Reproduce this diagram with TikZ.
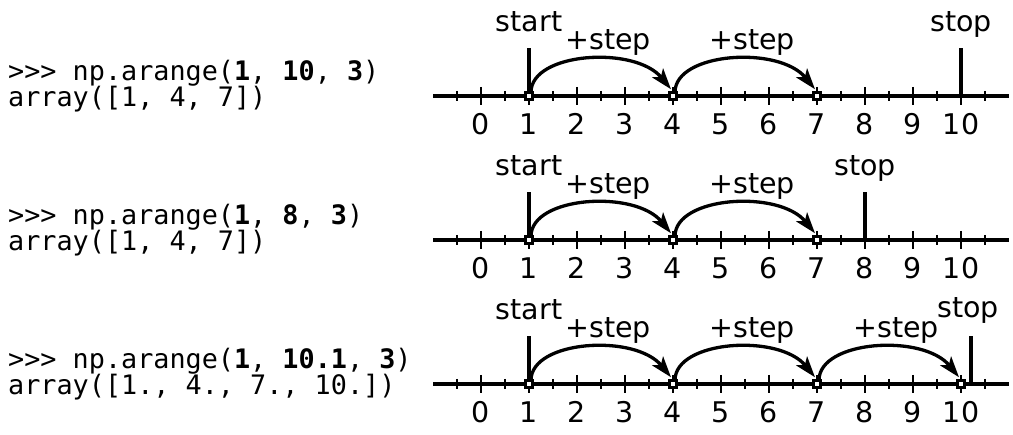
\documentclass[tikz,border=0pt]{standalone}
\usepackage{fontspec}
\setmainfont{DejaVu Sans}
\newfontfamily\codefont{DejaVu Sans Mono}
\usetikzlibrary{arrows.meta}
\tikzset{
  axisline/.style={line width=3.5pt},
  majortick/.style={line width=1.6pt},
  minortick/.style={line width=1.3pt},
  vline/.style={line width=4.2pt},
  pt/.style={draw, fill=white, line width=3.2pt, minimum size=7.5pt, inner sep=0pt, outer sep=0pt},
  num/.style={anchor=base, inner sep=0pt, font=\fontsize{28.5}{30}\selectfont},
  lab/.style={anchor=base, inner sep=0pt, font=\fontsize{28.5}{30}\selectfont},
  code/.style={anchor=base west, inner sep=0pt, font=\codefont\fontsize{26.8}{26}\selectfont},
  arc/.style={line width=3.3pt, -{Stealth[length=21pt,width=14pt,inset=5pt]}},
}
\newcommand\bfc[1]{{\bfseries #1}}
\begin{document}
\begin{tikzpicture}[x=1pt,y=-1pt]
\useasboundingbox (0,0) rectangle (1013,435);

% ---------------- code text ----------------
\node[code] (c1a) at (8,81) {>>> np.arange(\bfc{1}, \bfc{10}, \bfc{3})};
\node[code] (c1b) at (8,107) {array([1, 4, 7])};
\node[code] (c2a) at (8,225) {>>> np.arange(\bfc{1}, \bfc{8}, \bfc{3})};
\node[code] (c2b) at (8,251) {array([1, 4, 7])};
\node[code] (c3a) at (8,369) {>>> np.arange(\bfc{1}, \bfc{10.1}, \bfc{3})};
\node[code] (c3b) at (8,395) {array([1., 4., 7., 10.])};

% ---------------- panel 1 ----------------
\begin{scope}[shift={(481,96)}, x=48pt, y=-1pt]
  \coordinate (L1) at (-1,0); \coordinate (R1) at (11,0);
  \draw[axisline] (L1) -- (R1);
  \foreach \i in {0,...,10} {
    \draw[majortick] (\i,-9) -- (\i,9);
    \node[num, name=nA\i] at (\i,39) {\i};
  }
  \foreach \i in {-0.5,0.5,1.5,2.5,3.5,4.5,5.5,6.5,7.5,8.5,9.5,10.5}
    \draw[minortick] (\i,-5) -- (\i,5);
  \coordinate (sA) at (1,0); \coordinate (sAt) at (1,-48);
  \coordinate (eA) at (10,0); \coordinate (eAt) at (10,-48);
  \draw[vline] (sA) -- (sAt);
  \draw[vline] (eA) -- (eAt);
  \node[lab] (startA) at (1,-64) {start};
  \node[lab] (stopA) at (10,-64) {stop};
  \node[pt] (a1) at (1,0) {};
  \node[pt] (a4) at (4,0) {};
  \node[pt] (a7) at (7,0) {};
  \draw[arc] ([xshift=2pt]a1.north) .. controls +(0pt,40pt) and +(-36pt,44pt) .. ([xshift=-2pt,yshift=3pt]a4.north);
  \draw[arc] ([xshift=2pt]a4.north) .. controls +(0pt,40pt) and +(-36pt,44pt) .. ([xshift=-2pt,yshift=3pt]a7.north);
  \node[lab] (stepA1) at (2.65,-46) {+step};
  \node[lab] (stepA2) at (5.65,-46) {+step};
\end{scope}

% ---------------- panel 2 ----------------
\begin{scope}[shift={(481,240)}, x=48pt, y=-1pt]
  \coordinate (L2) at (-1,0); \coordinate (R2) at (11,0);
  \draw[axisline] (L2) -- (R2);
  \foreach \i in {0,...,10} {
    \draw[majortick] (\i,-9) -- (\i,9);
    \node[num, name=nB\i] at (\i,39) {\i};
  }
  \foreach \i in {-0.5,0.5,1.5,2.5,3.5,4.5,5.5,6.5,7.5,8.5,9.5,10.5}
    \draw[minortick] (\i,-5) -- (\i,5);
  \coordinate (sB) at (1,0); \coordinate (sBt) at (1,-48);
  \coordinate (eB) at (8,0); \coordinate (eBt) at (8,-48);
  \draw[vline] (sB) -- (sBt);
  \draw[vline] (eB) -- (eBt);
  \node[lab] (startB) at (1,-64) {start};
  \node[lab] (stopB) at (8,-64) {stop};
  \node[pt] (b1) at (1,0) {};
  \node[pt] (b4) at (4,0) {};
  \node[pt] (b7) at (7,0) {};
  \draw[arc] ([xshift=2pt]b1.north) .. controls +(0pt,40pt) and +(-36pt,44pt) .. ([xshift=-2pt,yshift=3pt]b4.north);
  \draw[arc] ([xshift=2pt]b4.north) .. controls +(0pt,40pt) and +(-36pt,44pt) .. ([xshift=-2pt,yshift=3pt]b7.north);
  \node[lab] (stepB1) at (2.65,-46) {+step};
  \node[lab] (stepB2) at (5.65,-46) {+step};
\end{scope}

% ---------------- panel 3 ----------------
\begin{scope}[shift={(481,384)}, x=48pt, y=-1pt]
  \coordinate (L3) at (-1,0); \coordinate (R3) at (11,0);
  \draw[axisline] (L3) -- (R3);
  \foreach \i in {0,...,10} {
    \draw[majortick] (\i,-9) -- (\i,9);
    \node[num, name=nC\i] at (\i,39) {\i};
  }
  \foreach \i in {-0.5,0.5,1.5,2.5,3.5,4.5,5.5,6.5,7.5,8.5,9.5,10.5}
    \draw[minortick] (\i,-5) -- (\i,5);
  \coordinate (sC) at (1,0); \coordinate (sCt) at (1,-48);
  \coordinate (eC) at (10.2,0); \coordinate (eCt) at (10.2,-48);
  \draw[vline] (sC) -- (sCt);
  \draw[vline] (eC) -- (eCt);
  \node[lab] (startC) at (1,-64) {start};
  \node[lab] (stopC) at (10.15,-66) {stop};
  \node[pt] (k1) at (1,0) {};
  \node[pt] (k4) at (4,0) {};
  \node[pt] (k7) at (7,0) {};
  \node[pt] (k10) at (10,0) {};
  \draw[arc] ([xshift=2pt]k1.north) .. controls +(0pt,40pt) and +(-36pt,44pt) .. ([xshift=-2pt,yshift=3pt]k4.north);
  \draw[arc] ([xshift=2pt]k4.north) .. controls +(0pt,40pt) and +(-36pt,44pt) .. ([xshift=-2pt,yshift=3pt]k7.north);
  \draw[arc] ([xshift=2pt]k7.north) .. controls +(0pt,40pt) and +(-36pt,44pt) .. ([xshift=-2pt,yshift=3pt]k10.north);
  \node[lab] (stepC1) at (2.65,-46) {+step};
  \node[lab] (stepC2) at (5.65,-46) {+step};
  \node[lab] (stepC3) at (8.65,-46) {+step};
\end{scope}
\end{tikzpicture}
\end{document}
